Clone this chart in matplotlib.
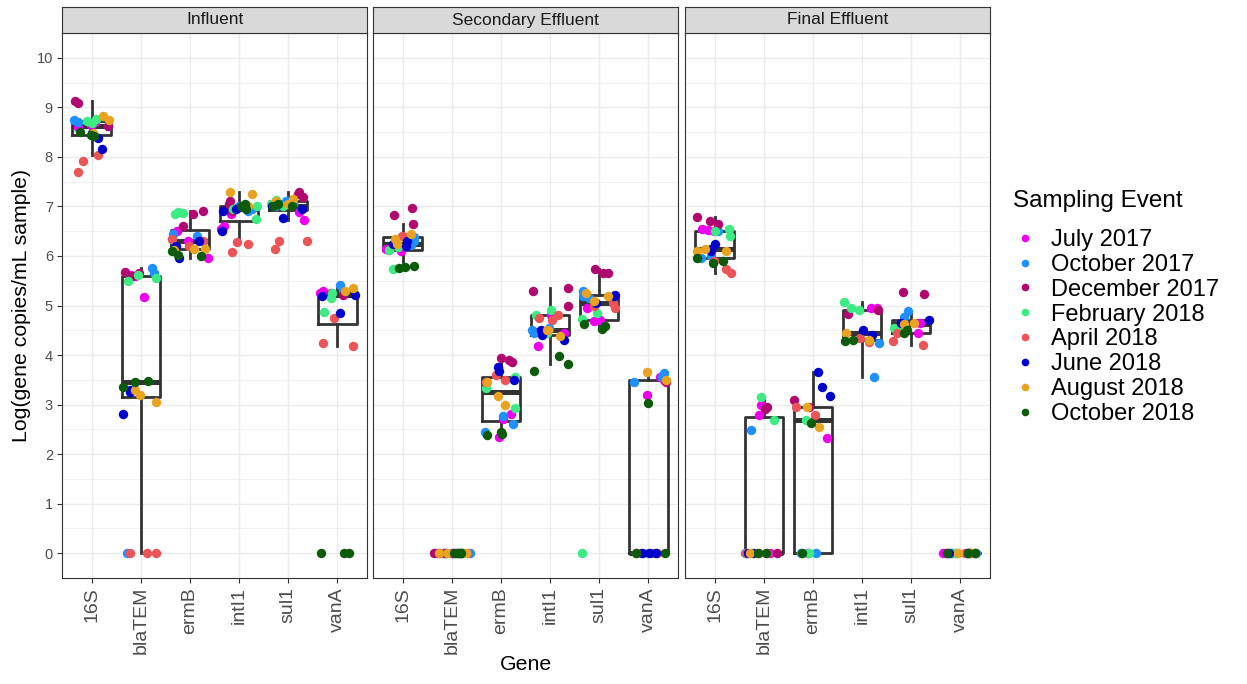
import numpy as np
import matplotlib
matplotlib.use('Agg')
from matplotlib import pyplot as plt
from matplotlib.lines import Line2D

plt.rcParams['font.family'] = ['Liberation Sans', 'DejaVu Sans']

genes = ['16S', 'blaTEM', 'ermB', 'intI1', 'sul1', 'vanA']
sites = ['Influent', 'Secondary Effluent', 'Final Effluent']
events = ['July 2017', 'October 2017', 'December 2017', 'February 2018',
          'April 2018', 'June 2018', 'August 2018', 'October 2018']
event_colors = ['#EE00EE', '#1E90FF', '#B0086E', '#3CEB82',
                '#EB5558', '#0000CD', '#E9A321', '#0B5B0B']

# replicate values per sampling event (same order as events), log copies/mL
inf_16s = [[8.6, 8.65, 8.7], [8.75, 8.7, 8.62], [9.13, 9.08, 8.62], [8.76, 8.72, 8.68],
           [8.04, 7.92, 7.70], [8.15, 8.39, 8.48], [8.83, 8.48, 8.75], [8.5, 8.42, 8.45]]
inf_bla = [[5.6, 5.17, 5.62], [5.75, 5.65, 0], [5.65, 5.6, 5.68], [5.55, 5.62, 5.5],
           [0, 0, 0], [3.25, 2.81, 3.3], [3.3, 3.2, 3.05], [3.47, 3.45, 3.35]]
inf_ermb = [[6.5, 5.96, 6.3], [6.4, 6.45, 6.35], [6.9, 6.85, 6.6], [6.86, 6.84, 6.88],
            [6.35, 6.3, 6.2], [6.2, 6.3, 5.95], [6.12, 6.15, 6.15], [6.1, 6.0, 6.02]]
inf_int = [[6.6, 6.54, 6.85], [6.9, 7.0, 6.95], [7.05, 6.9, 7.1], [7.0, 6.75, 6.95],
           [6.29, 6.08, 6.25], [6.5, 6.9, 6.95], [7.3, 7.25, 7.0], [7.0, 7.05, 6.95]]
inf_sul = [[6.88, 6.72, 7.0], [7.05, 7.0, 7.1], [7.3, 7.2, 7.25], [7.05, 7.0, 7.12],
           [6.3, 6.15, 6.3], [6.77, 7.0, 6.95], [7.15, 7.1, 7.05], [7.0, 7.0, 7.05]]
inf_van = [[5.25, 5.3], [5.42, 5.3], [5.25, 5.22], [5.25, 4.87, 5.15],
           [4.75, 4.19, 4.25], [5.2, 4.84, 5.22], [5.35, 5.3], [0, 0, 0]]

sec_16s = [[6.12, 6.1, 6.15], [6.3, 6.22, 6.38], [6.96, 6.82, 6.65], [5.73, 6.12, 6.18],
           [6.4, 6.25, 6.38], [6.2, 6.25, 6.3], [6.25, 6.44, 6.35], [5.79, 5.75, 5.78]]
sec_bla = [[0, 0, 0], [0, 0, 0], [0, 0, 0], [0, 0, 0],
           [0, 0, 0], [0, 0, 0], [0, 0, 0], [0, 0, 0]]
sec_ermb = [[2.81, 2.35, 2.7], [2.45, 2.77, 2.6], [3.9, 3.85, 3.95], [3.55, 3.33, 2.94],
            [3.6, 3.45, 3.5], [3.68, 3.75, 3.5], [3.45, 2.99, 3.17], [2.4, 2.45, 2.38]]
sec_int = [[4.8, 4.45, 4.19], [4.5, 4.45, 4.55], [5.35, 5.3, 5.0], [4.91, 4.8, 4.45],
           [4.75, 4.8, 4.7], [4.4, 4.5, 4.3], [4.38, 4.51, 4.5], [3.98, 3.82, 3.68]]
sec_sul = [[4.94, 4.68, 4.7], [5.3, 5.2, 5.15], [5.74, 5.66, 5.65], [4.72, 0, 4.85],
           [5.05, 4.95, 5.0], [5.2, 5.22, 5.05], [5.2, 5.1, 5.25], [4.53, 4.62, 4.58]]
sec_van = [[3.56, 3.5, 3.2], [3.45, 3.63, 3.55], [3.45, 0], [0, 0],
           [0, 0, 0], [0, 0, 0], [3.66, 3.5, 0], [3.03, 0, 0]]

fin_16s = [[6.5, 6.52, 6.55], [6.5, 6.0, 5.95], [6.79, 6.7, 6.65], [6.5, 6.55, 6.4],
           [5.66, 5.74, 5.9], [6.25, 6.15, 6.1], [6.09, 6.1, 6.15], [5.95, 5.86, 5.9]]
fin_bla = [[2.99, 2.79, 0], [2.49, 0], [2.95, 2.91, 0], [3.15, 2.69, 0],
           [0, 0], [0, 0], [0, 0], [0, 0]]
fin_ermb = [[2.33, 0], [0, 0], [3.1, 2.95], [2.69, 0],
            [2.95, 2.78], [3.65, 3.35, 3.18], [2.96, 2.54], [2.63, 0]]
fin_int = [[4.95, 4.95], [4.24, 3.55], [4.9, 4.82], [5.08, 4.95, 4.9],
           [4.26, 4.35], [4.5, 4.4], [4.44, 4.3], [4.29, 4.3]]
fin_sul = [[4.65, 4.45], [4.89, 4.76], [5.23, 5.28], [4.55, 4.55],
           [4.29, 4.21, 4.45], [4.7, 4.65], [4.62, 4.65], [4.45, 4.5]]
fin_van = [[0, 0, 0], [0, 0, 0], [0, 0, 0], [0, 0, 0],
           [0, 0, 0], [0, 0, 0], [0, 0, 0], [0, 0, 0]]

site_data = {
    'Influent': [inf_16s, inf_bla, inf_ermb, inf_int, inf_sul, inf_van],
    'Secondary Effluent': [sec_16s, sec_bla, sec_ermb, sec_int, sec_sul, sec_van],
    'Final Effluent': [fin_16s, fin_bla, fin_ermb, fin_int, fin_sul, fin_van],
}

W, H = 1247, 684
fig = plt.figure(figsize=(W / 100, H / 100), dpi=100)
panel_left = [62, 373, 685]
panel_w = 305
p_top, p_bottom, s_top = 33, 578, 7
dark = '#333333'
rng = np.random.default_rng(11)  # horizontal jitter only

for i, site in enumerate(sites):
    x0 = panel_left[i]
    ax = fig.add_axes([x0 / W, 1 - p_bottom / H, panel_w / W, (p_bottom - p_top) / H])
    strip = fig.add_axes([x0 / W, 1 - p_top / H, panel_w / W, (p_top - s_top) / H])

    gene_lists = site_data[site]
    flat = [np.concatenate([np.asarray(r, float) for r in g]) for g in gene_lists]
    ax.boxplot(flat, positions=np.arange(1, 7), widths=0.78, whis=1.5,
               showfliers=False, showcaps=False,
               boxprops=dict(color=dark, lw=2.0),
               whiskerprops=dict(color=dark, lw=2.0),
               medianprops=dict(color=dark, lw=3.6, solid_capstyle='butt'),
               zorder=2)
    for j, g in enumerate(gene_lists):
        for k, reps in enumerate(g):
            reps = np.asarray(reps, float)
            xs = j + 1 + rng.uniform(-0.38, 0.38, len(reps))
            ax.scatter(xs, reps, s=46, color=event_colors[k], linewidths=0, zorder=3)

    ax.set_xlim(0.4, 6.6)
    ax.set_ylim(-0.5, 10.5)
    ax.set_xticks(np.arange(1, 7))
    ax.set_xticklabels(genes, rotation=90, fontsize=14, color='#4D4D4D')
    ax.set_yticks(np.arange(0, 11))
    ax.set_yticks(np.arange(-0.5, 10.6, 1.0), minor=True)
    if i == 0:
        ax.set_yticklabels([str(v) for v in range(11)], fontsize=10.5, color='#4D4D4D')
    else:
        ax.tick_params(axis='y', which='major', left=False, labelleft=False)
    ax.tick_params(axis='both', which='major', color=dark, length=3.5, width=0.8, pad=3)
    ax.tick_params(axis='y', which='minor', left=False)
    ax.grid(True, which='major', color='#EBEBEB', lw=1.0)
    ax.grid(True, which='minor', axis='y', color='#EBEBEB', lw=0.5)
    ax.set_axisbelow(True)
    for sp in ax.spines.values():
        sp.set_color(dark)
        sp.set_linewidth(0.8)

    strip.set_facecolor('#D9D9D9')
    strip.set_xticks([])
    strip.set_yticks([])
    for sp in strip.spines.values():
        sp.set_color(dark)
        sp.set_linewidth(0.8)
    strip.text(0.5, 0.5, site, ha='center', va='center', fontsize=12.5,
               color='#1A1A1A', transform=strip.transAxes)

fig.text(22 / W, 1 - 305 / H, 'Log(gene copies/mL sample)', rotation=90,
         ha='center', va='center', fontsize=15.3)
fig.text(526 / W, 1 - 665 / H, 'Gene', ha='center', va='center', fontsize=15.3)

fig.text(1013 / W, 1 - 201 / H, 'Sampling Event', ha='left', va='center', fontsize=17.5)
handles = [Line2D([], [], ls='none', marker='o', ms=5.5, mec='none', mfc=c)
           for c in event_colors]
leg = fig.legend(handles, events, loc='upper left', bbox_to_anchor=(1013 / W, 1 - 229 / H),
                 frameon=False, fontsize=17, labelspacing=0.12, handlelength=1.0,
                 handletextpad=0.6, borderaxespad=0, borderpad=0)

fig.savefig('out.png', dpi=100)
